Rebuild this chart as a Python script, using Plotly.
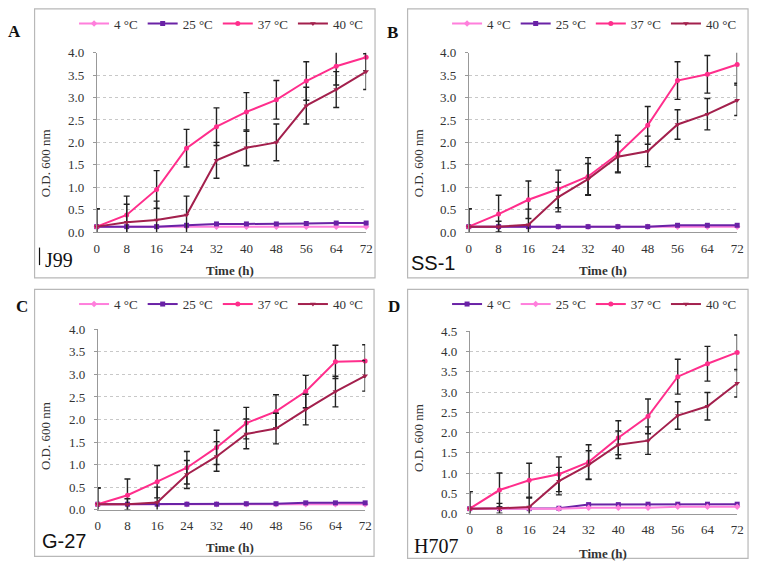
import plotly.graph_objects as go

W, H = 758, 578

time_h = [0, 8, 16, 24, 32, 40, 48, 56, 64, 72]
x_ticks = [0, 8, 16, 24, 32, 40, 48, 56, 64, 72]

# Panel A - J99
a_4c = [0.12, 0.12, 0.12, 0.12, 0.12, 0.12, 0.12, 0.12, 0.12, 0.12]
a_25c = [0.12, 0.12, 0.12, 0.15, 0.18, 0.18, 0.18, 0.19, 0.20, 0.20]
a_37c = [0.12, 0.38, 0.95, 1.87, 2.35, 2.68, 2.95, 3.37, 3.70, 3.90]
a_40c = [0.12, 0.22, 0.27, 0.38, 1.60, 1.88, 2.00, 2.82, 3.18, 3.58]
a_37c_err = [0.40, 0.42, 0.42, 0.42, 0.42, 0.43, 0.43, 0.43, 0.42, 0.30]
a_40c_err = [0.40, 0.40, 0.42, 0.42, 0.40, 0.40, 0.41, 0.41, 0.40, 0.40]

# Panel B - SS-1
b_4c = [0.12, 0.12, 0.12, 0.12, 0.12, 0.12, 0.12, 0.12, 0.12, 0.12]
b_25c = [0.12, 0.12, 0.12, 0.12, 0.12, 0.12, 0.12, 0.15, 0.15, 0.15]
b_37c = [0.12, 0.40, 0.72, 0.96, 1.24, 1.74, 2.38, 3.38, 3.52, 3.74]
b_40c = [0.12, 0.12, 0.16, 0.78, 1.18, 1.68, 1.80, 2.40, 2.63, 2.94]
b_37c_err = [0.40, 0.42, 0.42, 0.42, 0.42, 0.42, 0.42, 0.42, 0.42, 0.42]
b_40c_err = [0.40, 0.12, 0.35, 0.33, 0.35, 0.34, 0.34, 0.33, 0.35, 0.34]

# Panel C - G-27
c_4c = [0.12, 0.12, 0.12, 0.12, 0.12, 0.12, 0.12, 0.12, 0.12, 0.12]
c_25c = [0.12, 0.12, 0.12, 0.12, 0.12, 0.13, 0.13, 0.15, 0.15, 0.15]
c_37c = [0.12, 0.32, 0.62, 0.93, 1.38, 1.92, 2.18, 2.62, 3.28, 3.30]
c_40c = [0.12, 0.12, 0.16, 0.78, 1.18, 1.68, 1.80, 2.22, 2.62, 2.97]
c_37c_err = [0.36, 0.36, 0.36, 0.36, 0.38, 0.35, 0.37, 0.36, 0.37, 0.36]
c_40c_err = [0.36, 0.12, 0.34, 0.31, 0.33, 0.33, 0.34, 0.34, 0.34, 0.34]

# Panel D - H707
d_4c = [0.12, 0.12, 0.12, 0.13, 0.22, 0.22, 0.23, 0.23, 0.23, 0.23]
d_25c = [0.12, 0.12, 0.12, 0.12, 0.14, 0.14, 0.14, 0.17, 0.17, 0.17]
d_37c = [0.12, 0.58, 0.82, 0.97, 1.27, 1.87, 2.40, 3.38, 3.70, 3.98]
d_40c = [0.12, 0.13, 0.16, 0.80, 1.20, 1.70, 1.80, 2.42, 2.65, 3.22]
d_37c_err = [0.42, 0.42, 0.42, 0.43, 0.43, 0.42, 0.43, 0.43, 0.43, 0.43]
d_40c_err = [0.42, 0.12, 0.22, 0.34, 0.35, 0.34, 0.34, 0.34, 0.34, 0.34]

series_names = ["4 °C", "25 °C", "37 °C", "40 °C"]
panel_letters = ["A", "B", "C", "D"]
strain_labels = ["J99", "SS-1", "G-27", "H707"]

PINK_LIGHT = "#ff7fdc"
PURPLE = "#6a22a6"
PINK = "#ff2e8c"
MAROON = "#a3204d"

style_light = dict(color=PINK_LIGHT, symbol="diamond")
style_purple = dict(color=PURPLE, symbol="square")
style_pink = dict(color=PINK, symbol="circle")
style_maroon = dict(color=MAROON, symbol="triangle-down")

def px_x(v):
    return v / W

def px_y(v):
    return 1 - v / H

panels = [
    dict(data=[a_4c, a_25c, a_37c, a_40c], err=[None, None, a_37c_err, a_40c_err],
         styles=[style_light, style_purple, style_pink, style_maroon],
         xdom=(95, 368), ydom=(231, 47), yr=4.0,
         box=(32, 2, 377, 278), letter=(12, 25), strain=(57, 260, "Liberation Serif"),
         xtitle=(230, 271), ytitle=(43, 160), legend=(72, 17)),
    dict(data=[b_4c, b_25c, b_37c, b_40c], err=[None, None, b_37c_err, b_40c_err],
         styles=[style_light, style_purple, style_pink, style_maroon],
         xdom=(472, 744), ydom=(231, 47), yr=4.0,
         box=(410, 2, 755, 278), letter=(395, 26), strain=(436, 263, "Liberation Sans"),
         xtitle=(608, 271), ytitle=(421, 160), legend=(450, 17)),
    dict(data=[c_4c, c_25c, c_37c, c_40c], err=[None, None, c_37c_err, c_40c_err],
         styles=[style_light, style_purple, style_pink, style_maroon],
         xdom=(96, 367), ydom=(516, 331), yr=4.0,
         box=(32, 290, 376, 564), letter=(19, 307), strain=(62, 548, "Liberation Sans"),
         xtitle=(230, 555), ytitle=(43, 440), legend=(72, 305)),
    dict(data=[d_4c, d_25c, d_37c, d_40c], err=[None, None, d_37c_err, d_40c_err],
         styles=[style_purple, style_light, style_pink, style_maroon],
         xdom=(473, 744), ydom=(520, 333), yr=4.5,
         box=(410, 290, 755, 566), letter=(396, 307), strain=(439, 553, "Liberation Serif"),
         xtitle=(608, 561), ytitle=(421, 442), legend=(450, 305)),
]

fig = go.Figure()
shapes = []
annotations = []
layout_axes = {}

TICKFONT = dict(family="Liberation Serif, DejaVu Serif, serif", size=13, color="#333333")

for i, p in enumerate(panels):
    n = i + 1
    xa = "x" if n == 1 else f"x{n}"
    ya = "y" if n == 1 else f"y{n}"
    lg = "legend" if n == 1 else f"legend{n}"
    for k in range(4):
        st = p["styles"][k]
        err = p["err"][k]
        tr = go.Scatter(
            x=time_h, y=p["data"][k], name=series_names[k],
            mode="lines+markers",
            line=dict(color=st["color"], width=2),
            marker=dict(color=st["color"], symbol=st["symbol"], size=5),
            xaxis=xa, yaxis=ya, legend=lg, cliponaxis=False,
        )
        if err is not None:
            tr.error_y = dict(type="data", array=err, visible=True, color="#222222",
                              thickness=1.4, width=3)
        fig.add_trace(tr)

    xkey = "xaxis" if n == 1 else f"xaxis{n}"
    ykey = "yaxis" if n == 1 else f"yaxis{n}"
    layout_axes[xkey] = dict(
        domain=[px_x(p["xdom"][0]), px_x(p["xdom"][1])],
        range=[0, 72], tickvals=x_ticks, anchor=ya,
        showgrid=False, zeroline=False, showline=True, linecolor="#999999", linewidth=1,
        ticks="", tickfont=TICKFONT, fixedrange=True, ticklabelstandoff=4,
    )
    layout_axes[ykey] = dict(
        domain=[px_y(p["ydom"][0]), px_y(p["ydom"][1])],
        range=[0, p["yr"]], dtick=0.5, tickformat=".1f", anchor=xa,
        showgrid=True, gridcolor="#c8c8c8", griddash="dot", gridwidth=1,
        zeroline=False, showline=True, linecolor="#999999", linewidth=1,
        ticks="outside", ticklen=3, tickcolor="#999999", tickfont=TICKFONT,
        ticklabelstandoff=6, fixedrange=True,
    )
    layout_axes[lg] = dict(
        orientation="h", x=px_x(p["legend"][0]), y=px_y(p["legend"][1]),
        xanchor="left", yanchor="middle", bgcolor="rgba(0,0,0,0)",
        font=dict(family="Liberation Serif, DejaVu Serif, serif", size=13, color="#333333"),
        itemwidth=30, tracegroupgap=0,
    )

    bx0, by0, bx1, by1 = p["box"]
    shapes.append(dict(type="rect", xref="paper", yref="paper",
                       x0=px_x(bx0), x1=px_x(bx1), y0=px_y(by1), y1=px_y(by0),
                       line=dict(color="#b8b8b8", width=1.2)))
    annotations.append(dict(text=f"<b>{panel_letters[i]}</b>", xref="paper", yref="paper",
                            x=px_x(p["letter"][0]), y=px_y(p["letter"][1]),
                            xanchor="center", yanchor="middle", showarrow=False,
                            font=dict(family="Liberation Serif, serif", size=17, color="#111111")))
    annotations.append(dict(text=strain_labels[i], xref="paper", yref="paper",
                            x=px_x(p["strain"][0]), y=px_y(p["strain"][1]),
                            xanchor="center", yanchor="middle", showarrow=False,
                            font=dict(family=p["strain"][2], size=20, color="#111111")))
    annotations.append(dict(text="<b>Time (h)</b>", xref="paper", yref="paper",
                            x=px_x(p["xtitle"][0]), y=px_y(p["xtitle"][1]),
                            xanchor="center", yanchor="middle", showarrow=False,
                            font=dict(family="Liberation Serif, serif", size=13, color="#333333")))
    annotations.append(dict(text="O.D. 600 nm", xref="paper", yref="paper", textangle=-90,
                            x=px_x(p["ytitle"][0]), y=px_y(p["ytitle"][1]),
                            xanchor="center", yanchor="middle", showarrow=False,
                            font=dict(family="Liberation Serif, serif", size=13, color="#333333")))

# cursor-like vertical mark next to J99
shapes.append(dict(type="line", xref="paper", yref="paper",
                   x0=px_x(37), x1=px_x(37), y0=px_y(265), y1=px_y(247),
                   line=dict(color="#111111", width=1.2)))

fig.update_layout(
    width=W, height=H, margin=dict(l=0, r=0, t=0, b=0),
    paper_bgcolor="white", plot_bgcolor="white", hovermode=False,
    shapes=shapes, annotations=annotations, **layout_axes,
)

fig.write_html("out.html", config={"displayModeBar": False, "staticPlot": True},
               post_script="document.body.style.margin='0';")
